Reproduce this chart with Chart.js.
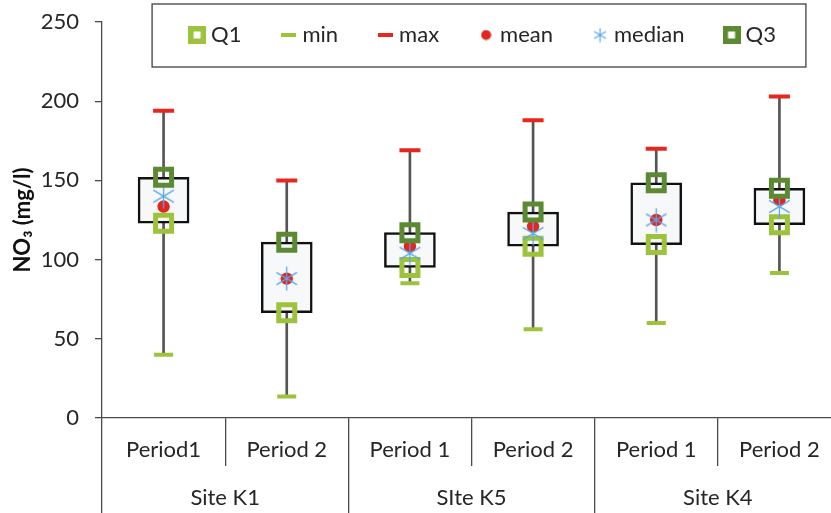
<!DOCTYPE html>
<html>
<head>
<meta charset="utf-8">
<title>NO3 box plot</title>
<script src="https://cdn.jsdelivr.net/npm/chart.js@4.4.1/dist/chart.umd.min.js"></script>
<style>
  html, body { margin: 0; padding: 0; background: #fff; overflow: hidden; }
  #wrap { width: 850px; height: 513px; }
</style>
</head>
<body>
<div id="wrap"><canvas id="boxChart" width="850" height="513"></canvas></div>
<script>
// Categories
const periods = ['Period1', 'Period 2', 'Period 1', 'Period 2', 'Period 1', 'Period 2'];
const sites = ['Site K1', 'SIte K5', 'Site K4'];
const yTicks = [0, 50, 100, 150, 200, 250];

// NO3 statistics (mg/l), one value per period
const minVals    = [40, 13.5, 85, 56, 60, 91.5];
const q1Vals     = [123, 66.5, 95, 108.5, 109.5, 122];
const medianVals = [140, 88, 104, 116.5, 125, 133.5];
const meanVals   = [133.5, 88, 108.5, 121, 125, 137.5];
const q3Vals     = [152, 111, 117, 130, 148.5, 145];
const maxVals    = [194, 150, 169, 188, 170, 203];

const FONT = 'Lato, "Open Sans", sans-serif';
const TEXT = '#262626';
const AXIS = '#4a4a4a';

const colQ1 = '#9dc23c';
const colQ3 = '#5b8a33';
const colMin = '#9dc23c';
const colMax = '#e8261c';
const colMean = '#e0261e';
const colMedian = '#5aa8e8';

/**
 * Small offscreen canvas used as a point style
 */
function makeIcon(w, h, draw) {
    const c = document.createElement('canvas');
    c.width = w;
    c.height = h;
    draw(c.getContext('2d'), w, h);
    return c;
}

function squareIcon(col) {
    return makeIcon(18, 18, (ctx) => {
        ctx.fillStyle = col;
        ctx.fillRect(0, 0, 18, 18);
        ctx.fillStyle = '#fff';
        ctx.fillRect(5.5, 5.5, 7, 7);
    });
}

function barIcon(col) {
    return makeIcon(15, 4, (ctx) => {
        ctx.fillStyle = col;
        ctx.fillRect(0, 0, 15, 4);
    });
}

// asterisk like Excel's "*" marker: vertical stroke + two diagonals
function asterisk(size, lw) {
    return makeIcon(size, size, (ctx, w, h) => {
        ctx.strokeStyle = colMedian;
        ctx.lineWidth = lw;
        const c = w / 2, r = w / 2 - 0.5, d = r * 0.85;
        ctx.beginPath();
        ctx.moveTo(c, c - r); ctx.lineTo(c, c + r);
        ctx.moveTo(c - d, c - d * 0.6); ctx.lineTo(c + d, c + d * 0.6);
        ctx.moveTo(c + d, c - d * 0.6); ctx.lineTo(c - d, c + d * 0.6);
        ctx.stroke();
    });
}

const legendIcons = {
    Q1: squareIcon(colQ1),
    min: barIcon(colMin),
    max: barIcon(colMax),
    mean: makeIcon(11, 11, (ctx) => {
        ctx.fillStyle = colMean;
        ctx.beginPath();
        ctx.arc(5.5, 5.5, 5, 0, Math.PI * 2);
        ctx.fill();
    }),
    median: asterisk(15, 1.2),
    Q3: squareIcon(colQ3)
};
const legendOrder = ['Q1', 'min', 'max', 'mean', 'median', 'Q3'];

/**
 * Legend sits inside the plot, with a frame round it
 */
const legendFrame = {
    id: 'legendFrame',
    beforeLayout(chart) {
        // keep the horizontal legend out of the layout so the plot keeps its height
        if (chart.legend) chart.legend.position = 'chartArea';
    },
    afterLayout(chart) {
        const lg = chart.legend;
        if (!lg) return;
        const w = lg.width, h = lg.height;
        lg.left = 485 - w / 2;
        lg.right = lg.left + w;
        lg.top = -20;
        lg.bottom = lg.top + h;
    },
    afterDraw(chart) {
        const hb = chart.legend && chart.legend.legendHitBoxes;
        if (!hb || !hb.length) return;
        const first = hb[0], last = hb[hb.length - 1];
        const cy = first.top + first.height / 2;
        const ctx = chart.ctx;
        ctx.save();
        ctx.strokeStyle = '#404040';
        ctx.lineWidth = 1.3;
        ctx.strokeRect(first.left - 42, cy - 31, last.left + last.width - first.left + 72, 63);
        ctx.restore();
    }
};

const ctx = document.getElementById('boxChart');

new Chart(ctx, {
    type: 'bar',
    data: {
        labels: periods,
        datasets: [
            {
                type: 'line', label: 'Q3', data: q3Vals, showLine: false,
                pointStyle: 'rect', pointRadius: 11.3, pointBorderWidth: 5,
                pointBorderColor: colQ3, pointBackgroundColor: 'rgba(0,0,0,0)'
            },
            {
                type: 'line', label: 'median', data: medianVals, showLine: false,
                pointStyle: asterisk(25, 1.3), pointRadius: 12
            },
            {
                type: 'line', label: 'mean', data: meanVals, showLine: false,
                pointStyle: 'circle', pointRadius: 6.2, pointBorderWidth: 0,
                pointBackgroundColor: colMean, pointBorderColor: colMean
            },
            {
                type: 'line', label: 'max', data: maxVals, showLine: false,
                pointStyle: 'line', pointRadius: 10.5, pointBorderWidth: 4,
                pointBorderColor: colMax
            },
            {
                type: 'line', label: 'min', data: minVals, showLine: false,
                pointStyle: 'line', pointRadius: 9.5, pointBorderWidth: 4,
                pointBorderColor: colMin
            },
            {
                type: 'line', label: 'Q1', data: q1Vals, showLine: false,
                pointStyle: 'rect', pointRadius: 11.3, pointBorderWidth: 5,
                pointBorderColor: colQ1, pointBackgroundColor: 'rgba(0,0,0,0)'
            },
            {
                label: 'box', data: q1Vals.map((v, i) => [v, q3Vals[i]]),
                backgroundColor: '#f6f8f9', borderColor: '#111', borderWidth: 2.5,
                borderSkipped: false, barThickness: 51, grouped: false
            },
            {
                label: 'range', data: minVals.map((v, i) => [v, maxVals[i]]),
                backgroundColor: '#555', borderWidth: 0, barThickness: 2, grouped: false
            }
        ]
    },
    options: {
        responsive: false,
        animation: false,
        devicePixelRatio: 1,
        layout: { autoPadding: false, padding: { top: 22, right: 9, left: 0, bottom: 0 } },
        plugins: {
            tooltip: { enabled: false },
            legend: {
                position: 'top',
                align: 'center',
                onClick: () => {},
                labels: {
                    usePointStyle: true,
                    boxWidth: 6,
                    boxHeight: 6,
                    padding: 44,
                    color: TEXT,
                    font: { family: FONT, size: 22 },
                    generateLabels: () => legendOrder.map((name, i) => ({
                        text: name,
                        pointStyle: legendIcons[name],
                        fillStyle: 'rgba(0,0,0,0)',
                        strokeStyle: 'rgba(0,0,0,0)',
                        lineWidth: 0,
                        hidden: false,
                        fontColor: TEXT,
                        datasetIndex: i
                    }))
                }
            }
        },
        scales: {
            x: {
                type: 'category',
                offset: true,
                weight: 0,
                afterFit(scale) { scale.height = 48; },
                grid: {
                    display: true, offset: true, drawOnChartArea: false,
                    drawTicks: true, tickLength: 48, color: AXIS, lineWidth: 1.3
                },
                border: { display: true, color: AXIS, width: 1.3 },
                ticks: {
                    padding: -29, color: TEXT, maxRotation: 0, autoSkip: false,
                    font: { family: FONT, size: 22 }
                }
            },
            x2: {
                type: 'category',
                labels: sites,
                position: 'bottom',
                offset: true,
                weight: 1,
                afterFit(scale) { scale.height = 47; },
                grid: {
                    display: true, offset: true, drawOnChartArea: false,
                    drawTicks: true, tickLength: 50, color: AXIS, lineWidth: 1.3
                },
                border: { display: false },
                ticks: {
                    padding: -31, color: TEXT, maxRotation: 0, autoSkip: false,
                    font: { family: FONT, size: 22 }
                }
            },
            y: {
                min: yTicks[0],
                max: yTicks[yTicks.length - 1],
                afterFit(scale) {
                    scale.width = 102;
                    scale.paddingTop = 0;
                    scale.paddingBottom = 0;
                },
                afterBuildTicks(scale) { scale.ticks = yTicks.map(v => ({ value: v })); },
                grid: { drawOnChartArea: false, tickLength: 7, color: AXIS, lineWidth: 1.3 },
                border: { color: AXIS, width: 1.3 },
                ticks: { padding: 16, color: TEXT, font: { family: FONT, size: 22 } },
                title: {
                    display: true,
                    text: 'NO₃ (mg/l)',
                    color: '#111',
                    font: { family: FONT, size: 22, weight: 'bold' },
                    padding: { top: 10, bottom: 0 }
                }
            }
        }
    },
    plugins: [legendFrame]
});
</script>
</body>
</html>
